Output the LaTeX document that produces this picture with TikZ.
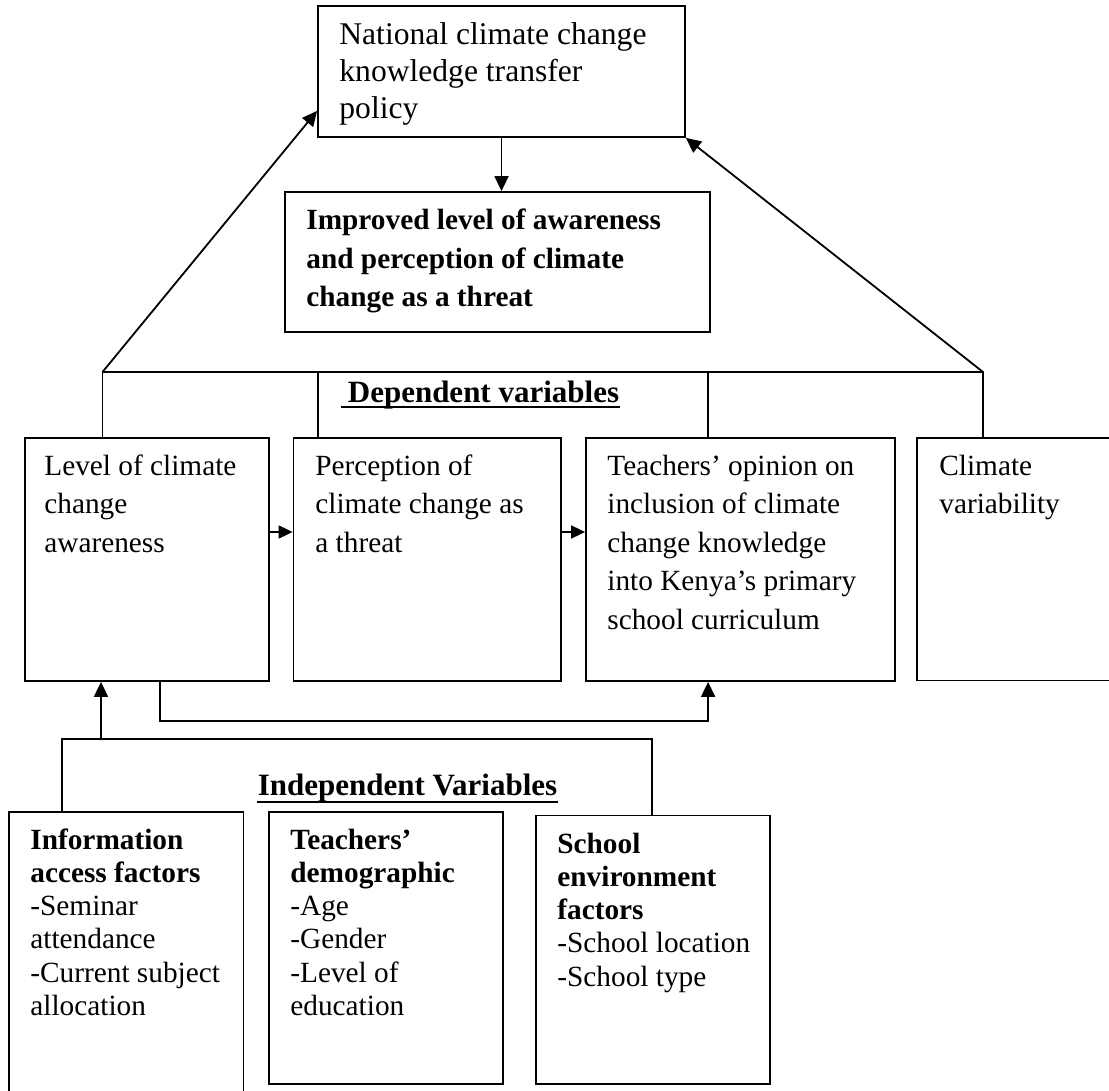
\documentclass[tikz,border=0pt]{standalone}
\usepackage{fontspec}
\setmainfont{Liberation Serif}
\usetikzlibrary{arrows.meta,fit}
\newcommand{\upfont}{\fontsize{14.65pt}{19.25pt}\selectfont}
\newcommand{\natfont}{\fontsize{15.8pt}{18.35pt}\selectfont}
\newcommand{\lowfont}{\fontsize{14.65pt}{16.65pt}\selectfont}
\newcommand{\headfont}{\fontsize{15.5pt}{18pt}\selectfont\bfseries}
\begin{document}
\begin{tikzpicture}[x=0.5pt,y=-0.5pt,
  box/.style={draw, line width=0.9pt, inner sep=0pt},
  frame/.style={inner sep=0pt},
  txt/.style={anchor=base west, inner sep=0pt},
  conn/.style={line width=0.9pt},
  arr/.style={conn, -{Triangle[length=7.5pt,width=7pt]}},
  sarr/.style={conn, -{Triangle[length=7pt,width=6.5pt]}},
  uline/.style={line width=1.1pt}]
\useasboundingbox (0,0) rectangle (1109,1091);

% boxes
\node[box, fit={(318,6) (685,137)}] (nat) {};
\node[box, fit={(285,192) (710,332)}] (impr) {};
\node[box, fit={(25,438) (269,681)}] (lev) {};
\node[box, fit={(293.5,438) (561,681)}] (perc) {};
\node[box, fit={(586,438) (895,681)}] (opin) {};
\node[frame, fit={(917,438) (1109,680)}] (clim) {};
\draw[conn] (clim.north east) -- (clim.north west) -- (clim.south west) -- (clim.south east);
\node[frame, fit={(9.5,812) (243,1091)}] (info) {};
\draw[conn] (info.south west) -- (info.north west) -- (info.north east) -- (info.south east);
\node[box, fit={(269,812) (503,1084)}] (demo) {};
\node[box, fit={(536,815.5) (770,1084)}] (env) {};

% texts
\node[txt] (natT) at (339,45) {\natfont\parbox[t]{200pt}{National climate change\\knowledge transfer\\policy}};
\node[txt] (imprT) at (306,230) {\fontsize{14.65pt}{19.15pt}\selectfont\parbox[t]{200pt}{\bfseries Improved level of awareness\\and perception of climate\\change as a threat}};
\node[txt] (levT) at (44,475) {\upfont\parbox[t]{120pt}{Level of climate\\change\\awareness}};
\node[txt] (percT) at (315,475) {\upfont\parbox[t]{130pt}{Perception of\\climate change as\\a threat}};
\node[txt] (opinT) at (607,475) {\upfont\parbox[t]{150pt}{Teachers’ opinion on\\inclusion of climate\\change knowledge\\into Kenya’s primary\\school curriculum}};
\node[txt] (climT) at (939,475) {\upfont\parbox[t]{90pt}{Climate\\variability}};
\node[txt] (infoT) at (30,849) {\lowfont\parbox[t]{110pt}{\textbf{Information}\\\textbf{access factors}\\-Seminar\\attendance\\-Current subject\\allocation}};
\node[txt] (demoT) at (290,849) {\lowfont\parbox[t]{110pt}{\textbf{Teachers’}\\\textbf{demographic}\\-Age\\-Gender\\-Level of\\education}};
\node[txt] (envT) at (557,853) {\lowfont\parbox[t]{110pt}{\textbf{School}\\\textbf{environment}\\\textbf{factors}\\-School location\\-School type}};

% headings
\node[anchor=base, inner sep=0pt, font=\headfont] (dep) at (483.5,402) {Dependent variables};
\draw[uline] ([xshift=-3pt,yshift=-2.5pt]dep.base west) -- ([yshift=-2.5pt]dep.base east);
\node[anchor=base, inner sep=0pt, font=\headfont] (ind) at (407.5,795) {Independent Variables};
\draw[uline] ([yshift=-3.3pt]ind.base west) -- ([yshift=-3.3pt]ind.base east);

% coordinates of the bars
\coordinate (depL) at (102.5,372);
\coordinate (depR) at (983,372);
\coordinate (indL) at (61.7,739);
\coordinate (indR) at (652,739);
\coordinate (indA) at (101,739);

% connectors
\draw[arr] (nat.south) -- (nat.south |- impr.north);
\draw[arr] (depL) -- ([yshift=13.5pt]nat.south west);
\draw[arr] (depR) -- (nat.south east);
\draw[conn] (lev.north -| depL) -- (depL) -- (depR) -- (clim.north -| depR);
\draw[conn] ([xshift=12.75pt]perc.north west) -- ([xshift=12.75pt]perc.north west |- depL);
\draw[conn] ([xshift=61.5pt]opin.north west) -- ([xshift=61.5pt]opin.north west |- depL);
\draw[sarr] ([yshift=13.75pt]lev.east) -- ([yshift=13.75pt]perc.west);
\draw[sarr] ([yshift=13.75pt]perc.east) -- ([yshift=13.75pt]opin.west);
\draw[arr] ([xshift=67.75pt]lev.south west) -- ++(0,39) -| ([xshift=61.5pt]opin.south west);
\draw[conn] (info.north -| indL) -- (indL) -- (indR) -- (env.north -| indR);
\draw[arr] (indA) -- (indA |- lev.south);
\end{tikzpicture}
\end{document}
